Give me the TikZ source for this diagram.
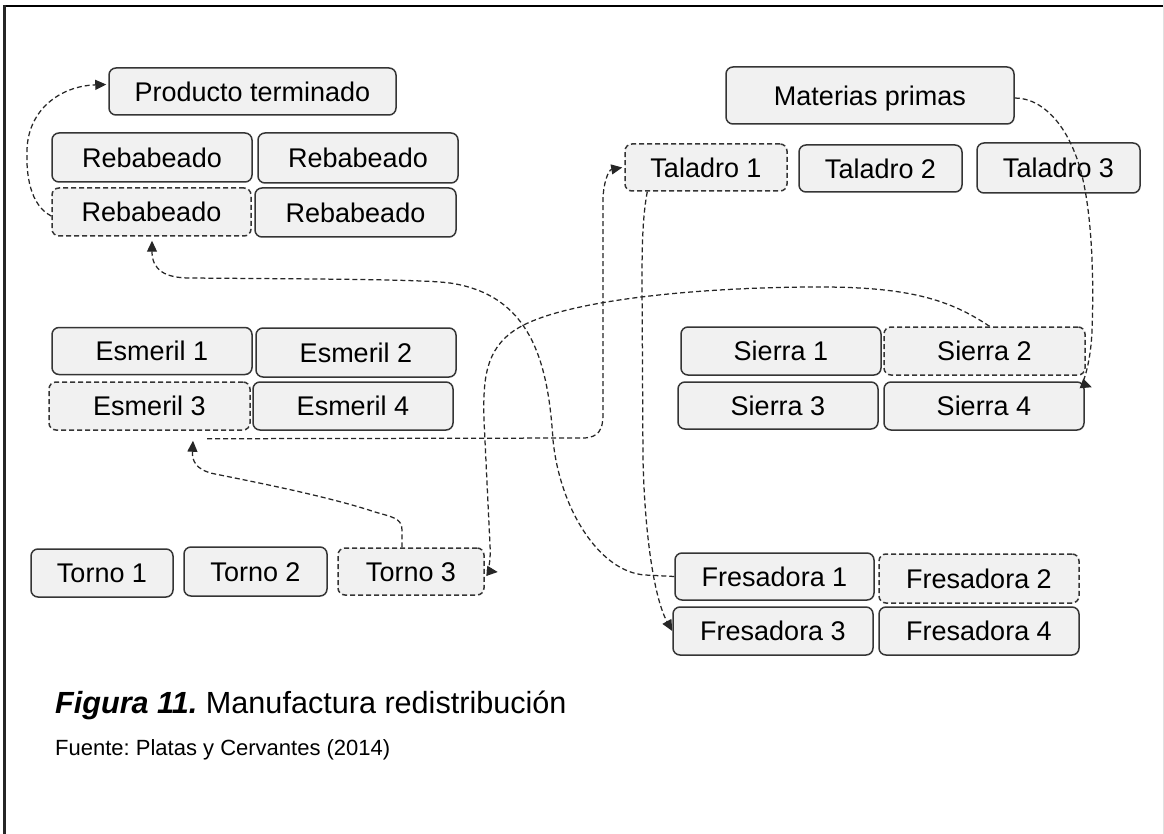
\documentclass[tikz,border=0pt]{standalone}
\usepackage{fontspec}
\setmainfont{Liberation Sans}
\usetikzlibrary{arrows.meta,calc}
\definecolor{nfill}{HTML}{F1F1F1}
\definecolor{nline}{HTML}{353535}
\definecolor{cline}{HTML}{262626}
\frenchspacing
\begin{document}
\begin{tikzpicture}[x=1pt,y=-1pt,
  mach/.style={draw=nline, line width=1.5pt, fill=nfill, rounded corners=7pt, inner sep=0pt,
    text height=19.5pt, text depth=0pt, font=\fontsize{27}{32}\selectfont, text=black},
  machd/.style={mach, dash pattern=on 5pt off 3pt},
  flow/.style={draw=cline, line width=1.25pt, dash pattern=on 5pt off 3pt,
    -{Triangle[length=11pt,width=10pt]}},
  capt/.style={anchor=base west, inner sep=0pt, text=black}
]
\useasboundingbox (0,0) rectangle (1164,834);
\fill[white] (0,0) rectangle (1164,834);
% frame
\draw[line width=2.5pt, black] (3,6) -- (1164,6);
\draw[line width=2.5pt, black!85] (4.5,5) -- (4.5,834);
\draw[line width=1pt, black!12] (1163.5,0) -- (1163.5,834);

% nodes
\node[mach, minimum width=287, minimum height=47] (pt) at (252.5,91.5) {Producto terminado};
\node[mach, minimum width=200, minimum height=49] (r1) at (152,157.5) {Rebabeado};
\node[mach, minimum width=200, minimum height=50] (r2) at (358,158) {Rebabeado};
\node[machd, minimum width=199, minimum height=48] (r3) at (151.5,212) {Rebabeado};
\node[mach, minimum width=201, minimum height=49] (r4) at (355.5,212.5) {Rebabeado};

\node[mach, minimum width=288, minimum height=57] (mp) at (870,95.5) {Materias primas};
\node[machd, minimum width=162, minimum height=47] (t1) at (706,167.5) {Taladro 1};
\node[mach, minimum width=163, minimum height=47] (t2) at (880.5,168.5) {Taladro 2};
\node[mach, minimum width=163, minimum height=50] (t3) at (1058.5,168) {Taladro 3};

\node[mach, minimum width=200, minimum height=47] (e1) at (152,351) {Esmeril 1};
\node[mach, minimum width=200, minimum height=49] (e2) at (356,352.5) {Esmeril 2};
\node[machd, minimum width=201, minimum height=48] (e3) at (149.5,406) {Esmeril 3};
\node[mach, minimum width=200, minimum height=48] (e4) at (353,406) {Esmeril 4};

\node[mach, minimum width=200, minimum height=48] (s1) at (781,351) {Sierra 1};
\node[machd, minimum width=201, minimum height=48] (s2) at (984.5,351) {Sierra 2};
\node[mach, minimum width=200, minimum height=47] (s3) at (778,405.5) {Sierra 3};
\node[mach, minimum width=200, minimum height=48] (s4) at (984,406) {Sierra 4};

\node[mach, minimum width=142, minimum height=48] (to1) at (102,573) {Torno 1};
\node[mach, minimum width=143, minimum height=49] (to2) at (255.5,571.5) {Torno 2};
\node[machd, minimum width=146, minimum height=47] (to3) at (411,571.5) {Torno 3};

\node[mach, minimum width=199, minimum height=47] (f1) at (774.5,576.5) {Fresadora 1};
\node[machd, minimum width=200, minimum height=49] (f2) at (979,578.5) {Fresadora 2};
\node[mach, minimum width=200, minimum height=48] (f3) at (773,631) {Fresadora 3};
\node[mach, minimum width=200, minimum height=48] (f4) at (979,631) {Fresadora 4};

% connectors
\draw[flow] ($(r3.west)+(0,4)$) .. controls (30,205) and (26,175) .. (27,150)
  .. controls (28,110) and (60,86) .. ($(pt.west)+(-2,-7)$);

\draw[flow] (f1.west) -- (645,575) .. controls (600,572) and (560,510) .. (553,440)
  .. controls (548,360) and (530,295) .. (450,283)
  .. controls (420,279) and (300,279) .. (190,278)
  .. controls (165,278) and (152,270) .. ($(r3.south)+(0.5,4)$);

\draw[flow] ($(t1.south west)+(23,0)$) .. controls (643,215) and (642,240) .. (642,280)
  -- (643,460) .. controls (645,540) and (655,600) .. (f3.west);

\draw[flow] ($(e3.south)+(57.5,8)$) -- (585,438) .. controls (598,437) and (603,430) .. (603,415)
  -- (603,200) .. controls (603,185) and (608,170) .. ($(t1.west)+(-2,0)$);

\draw[flow] ($(to3.north)+(-9,0)$) -- (402,530) .. controls (402,518) and (392,517) .. (375,512)
  .. controls (330,497) and (260,483) .. (215,474)
  .. controls (195,470) and (192,460) .. ($(e3.south)+(43.5,10)$);

\draw[flow] ($(s2.north)+(5,0)$) .. controls (950,300) and (910,287) .. (820,287)
  .. controls (700,287) and (560,300) .. (515,330)
  .. controls (485,350) and (483,380) .. (484,420)
  -- (490,545) .. controls (491,562) and (488,571) .. ($(to3.east)+(13,0.5)$);

\draw[flow] ($(mp.east)+(0,2.5)$) .. controls (1045,98) and (1072,130) .. (1083,180)
  .. controls (1092,220) and (1094,280) .. (1092,330)
  .. controls (1091,362) and (1083,384) .. ($(s4.north east)+(7,6)$);

% caption
\node[capt, font=\fontsize{30.6}{36}\selectfont] (cap) at (55,713)
  {\textbf{\textit{Figura 11.}} Manufactura redistribución};
\node[capt, font=\fontsize{22}{26}\selectfont] (src) at (55,755)
  {Fuente: Platas y Cervantes (2014)};
\end{tikzpicture}
\end{document}
